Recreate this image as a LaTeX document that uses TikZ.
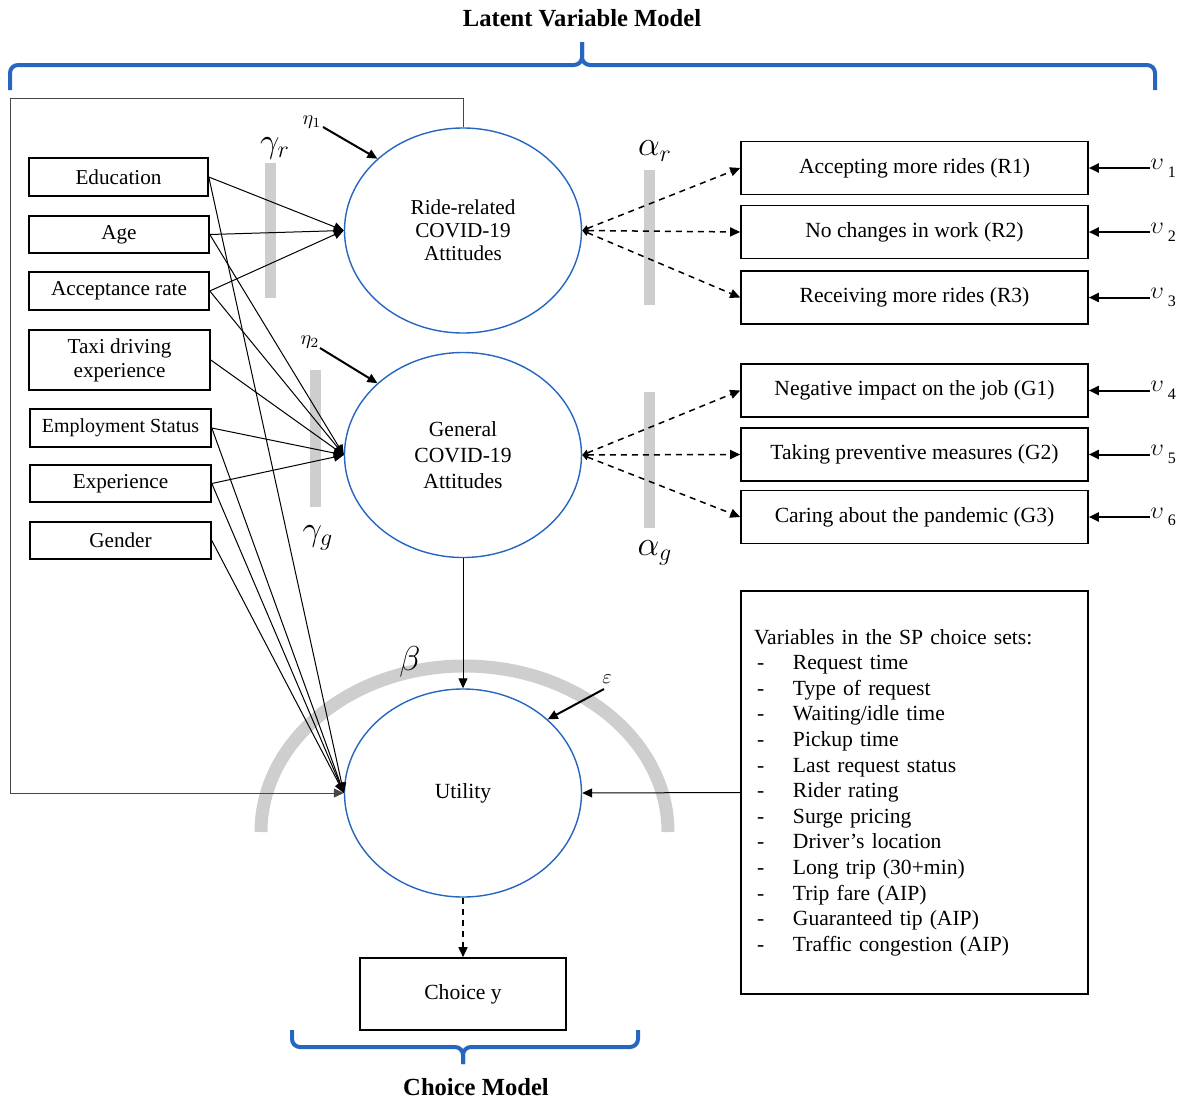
\documentclass[tikz,border=0pt]{standalone}
\usepackage{fontspec}
\setmainfont{Liberation Serif}
\usetikzlibrary{shapes.geometric,arrows.meta}
\definecolor{bblue}{RGB}{38,102,192}
\definecolor{bargray}{RGB}{206,206,206}
\definecolor{framegray}{RGB}{70,70,70}
\begin{document}
\begin{tikzpicture}[x=0.5pt,y=-0.5pt,
  >={Triangle[length=5pt,width=4.5pt]},
  lbox/.style={draw, line width=0.8pt, inner sep=0pt, align=center,
    minimum width=90pt, minimum height=19pt, font=\fontsize{10.6}{12}\selectfont},
  rbox/.style={lbox, minimum width=173.5pt, minimum height=26.5pt, font=\fontsize{10.8}{12}\selectfont},
  lv/.style={ellipse, draw=bblue, line width=0.7pt, fill=white, inner sep=0pt,
    minimum width=118.5pt, minimum height=102.5pt, align=center},
  conn/.style={->, line width=0.5pt},
  econn/.style={->, line width=1pt},
  dconn/.style={{Triangle[length=3pt,width=3pt]}-{Triangle[length=5pt,width=4.5pt]},
    line width=0.75pt, dash pattern=on 3pt off 2.5pt},
  bar/.style={fill=bargray, draw=none},
  greek/.style={inner sep=0pt, font=\fontsize{17}{17}\selectfont},
  small/.style={inner sep=0pt, font=\fontsize{10}{10}\selectfont},
  brace/.style={draw=bblue, line width=2pt},
  title/.style={inner sep=0pt, font=\bfseries\fontsize{12.3}{14}\selectfont}
]
\useasboundingbox (0,0) rectangle (1189,1098);

% titles and braces
\node[title] (lvm) at (582,18) {Latent Variable Model};
\node[title] (cm) at (476,1087) {Choice Model};
\draw[brace] (10,90) -- (10,73) to[out=90,in=180] (18,65) -- (574,65)
  to[out=0,in=-90] (582,57) -- (582,42);
\draw[brace] (582,42) -- (582,57) to[out=-90,in=180] (590,65) -- (1147,65)
  to[out=0,in=90] (1155,73) -- (1155,90);
\draw[brace] (292,1030) -- (292,1039) to[out=-90,in=180] (300,1047) -- (455,1047)
  to[out=0,in=90] (463,1055) -- (463,1064);
\draw[brace] (463,1064) -- (463,1055) to[out=90,in=180] (471,1047) -- (630,1047)
  to[out=0,in=-90] (638,1039) -- (638,1030);

% gray parameter bars and arc
\fill[bar] (265,163) rectangle (276,298);
\fill[bar] (310,370) rectangle (321,507);
\fill[bar] (644,170) rectangle (655,305);
\fill[bar] (644,392) rectangle (655,528);
\draw[bargray, line width=6.5pt] (261,832) arc[start angle=180, end angle=0, x radius=101.75pt, y radius=83pt];

% parameter labels
\node[greek] (gr) at (275,148) {$\gamma_r$};
\node[greek] (gg) at (318,538) {$\gamma_g$};
\node[greek] (ar) at (655,151) {$\alpha_r$};
\node[greek] (ag) at (655,553) {$\alpha_g$};
\node[greek] (be) at (410,662) {$\beta$};

% left explanatory variables
\node[lbox, minimum width=89.5pt] (edu) at (118.5,177) {Education};
\node[lbox, minimum height=18.5pt] (age) at (119,234.5) {Age};
\node[lbox] (acc) at (119,291) {Acceptance rate};
\node[lbox, minimum width=90.5pt, minimum height=30pt] (taxi) at (119.5,360) {Taxi driving\\experience};
\node[lbox, minimum width=90.5pt, font=\fontsize{10}{12}\selectfont] (emp) at (120.5,428) {Employment Status};
\node[lbox, minimum width=90.5pt, minimum height=18.5pt] (exper) at (120.5,483.5) {Experience};
\node[lbox, minimum width=90.5pt, minimum height=18.5pt] (gend) at (120.5,540.5) {Gender};

% latent variables and utility
\node[lv, font=\fontsize{10.6}{11.5}\selectfont] (ride) at (463,230.5) {Ride-related\\COVID-19\\Attitudes};
\node[lv, font=\fontsize{10.8}{13}\selectfont] (gen) at (463,455) {General\\COVID-19\\Attitudes};
\node[lv, minimum height=104pt, font=\fontsize{10.8}{13}\selectfont] (util) at (463,793) {Utility};

% indicators
\node[rbox] (r1) at (914.5,168) {Accepting more rides (R1)};
\node[rbox] (r2) at (914.5,232) {No changes in work (R2)};
\node[rbox] (r3) at (914.5,297.5) {Receiving more rides (R3)};
\node[rbox] (g1) at (914.5,390.5) {Negative impact on the job (G1)};
\node[rbox] (g2) at (914.5,454.5) {Taking preventive measures (G2)};
\node[rbox] (g3) at (914.5,517) {Caring about the pandemic (G3)};

% SP box and choice
\node[draw, line width=0.8pt, minimum width=173.5pt, minimum height=201.5pt,
  text width=160.5pt, inner xsep=6.5pt, inner ysep=0pt, align=left,
  font=\fontsize{10.8}{12.8}\selectfont] (sp) at (914.5,792.5)
  {\begin{tabular}{@{}p{19.5pt}@{}l@{}}
   \multicolumn{2}{@{}l@{}}{Variables in the SP choice sets:}\\
   \hspace{1.5pt}- & Request time\\
   \hspace{1.5pt}- & Type of request\\
   \hspace{1.5pt}- & Waiting/idle time\\
   \hspace{1.5pt}- & Pickup time\\
   \hspace{1.5pt}- & Last request status\\
   \hspace{1.5pt}- & Rider rating\\
   \hspace{1.5pt}- & Surge pricing\\
   \hspace{1.5pt}- & Driver’s location\\
   \hspace{1.5pt}- & Long trip (30+min)\\
   \hspace{1.5pt}- & Trip fare (AIP)\\
   \hspace{1.5pt}- & Guaranteed tip (AIP)\\
   \hspace{1.5pt}- & Traffic congestion (AIP)
   \end{tabular}};
\node[lbox, minimum width=103pt, minimum height=36pt, font=\fontsize{10.8}{12}\selectfont] (choice) at (463,994) {Choice y};

% error terms
\node[small] (eta1) at (312,122) {$\eta_1$};
\node[small] (eta2) at (310,342) {$\eta_2$};
\node[small] (eps) at (607,679) {$\varepsilon$};
\coordinate (e1) at (323,127);
\coordinate (e2) at (320,348);
\coordinate (ee) at (604,689);
\draw[econn] (e1) -- (ride.140);
\draw[econn] (e2) -- (gen.140);
\draw[econn] (ee) -- (util.41);

\foreach \n/\y/\d in {v1/168/1, v2/232/2, v3/297.5/3, v4/390.5/4, v5/454.5/5, v6/517/6}{
  \node[anchor=west, inner sep=0pt, font=\fontsize{12}{12}\selectfont] (\n) at (1150,\y)
    {$\upsilon$\,\raisebox{-0.7ex}{\fontsize{8}{8}\selectfont \d}};
}
\draw[econn] (v1.west) -- (r1.east);
\draw[econn] (v2.west) -- (r2.east);
\draw[econn] (v3.west) -- (r3.east);
\draw[econn] (v4.west) -- (g1.east);
\draw[econn] (v5.west) -- (g2.east);
\draw[econn] (v6.west) -- (g3.east);

% structural connectors
\draw[conn] (edu.east) -- (ride.west);
\draw[conn] (age.east) -- (ride.west);
\draw[conn] (acc.east) -- (ride.west);
\draw[conn] (age.east) -- (gen.west);
\draw[conn] (acc.east) -- (gen.west);
\draw[conn] (taxi.east) -- (gen.west);
\draw[conn] (emp.east) -- (gen.west);
\draw[conn] (exper.east) -- (gen.west);
\draw[conn] (edu.east) -- (util.west);
\draw[conn] (emp.east) -- (util.west);
\draw[conn] (exper.east) -- (util.west);
\draw[conn] (gend.east) -- (util.west);

% frame line from ride-related attitudes to utility
\coordinate (ftr) at (463,98);
\coordinate (ftl) at (10,98);
\draw[conn, draw=framegray] (ride.north) -- (ftr) -- (ftl) |- (util.west);

\draw[conn] (gen.south) -- (util.north);
\draw[conn] (sp.west) -- (util.east);
\draw[conn, dashed, dash pattern=on 3pt off 2.5pt, line width=0.75pt] (util.south) -- (choice.north);

% measurement connectors
\draw[dconn] (ride.east) -- (r1.west);
\draw[dconn] (ride.east) -- (r2.west);
\draw[dconn] (ride.east) -- (r3.west);
\draw[dconn] (gen.east) -- (g1.west);
\draw[dconn] (gen.east) -- (g2.west);
\draw[dconn] (gen.east) -- (g3.west);
\end{tikzpicture}
\end{document}
